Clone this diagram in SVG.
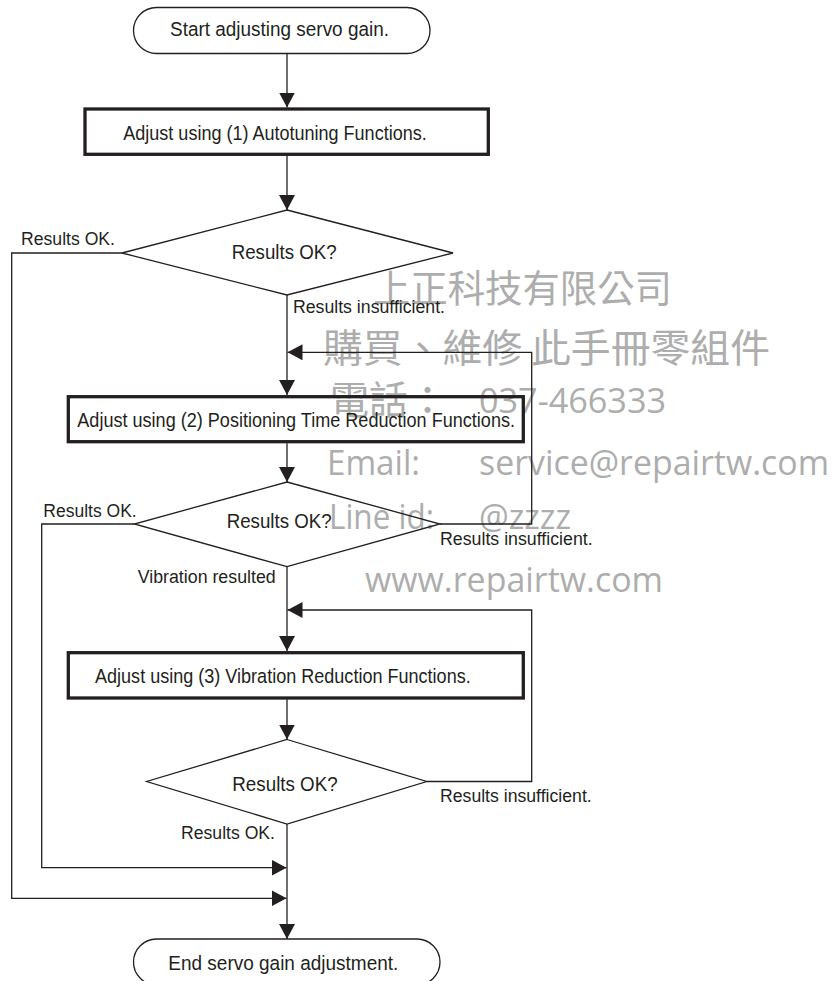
<svg xmlns="http://www.w3.org/2000/svg" width="833" height="981" viewBox="0 0 833 981">
<defs>
<style>
.bg{fill:#ffffff}
.wm{fill:#adadad;font-family:"Open Sans","Noto Sans CJK TC",sans-serif}
.wmc{fill:#adadad;font-family:"Noto Sans CJK TC","Noto Sans CJK SC",sans-serif}
.term{fill:none;stroke:#231f20;stroke-width:1.3}
.proc{fill:none;stroke:#231f20;stroke-width:3.3}
.dec{fill:none;stroke:#231f20;stroke-width:1.3;stroke-linejoin:miter}
.conn{fill:none;stroke:#231f20;stroke-width:1.3}
.t{fill:#231f20;font-family:"Liberation Sans Narrow","Arial Narrow","Liberation Sans",Arial,sans-serif}
.big{font-size:20.5px}
.dq{font-size:19.5px}
.lbl{font-size:18px}
</style>
<marker id="ah" markerUnits="userSpaceOnUse" viewBox="0 0 15 16" markerWidth="15" markerHeight="16" refX="15" refY="8" orient="auto">
<path d="M0,0 L15,8 L0,16 Z" fill="#231f20"/>
</marker>
</defs>
<rect class="bg" x="0" y="0" width="833" height="981"/>

<g id="watermark">
<text class="wmc" x="373" y="302" font-size="37.5" textLength="299" lengthAdjust="spacingAndGlyphs">上正科技有限公司</text>
<text class="wmc" x="323" y="362" font-size="39" textLength="447" lengthAdjust="spacingAndGlyphs">購買、維修 此手冊零組件</text>
<text class="wmc" x="330" y="414" font-size="39">電話：</text>
<text class="wm" x="479" y="413" font-size="34" textLength="187" lengthAdjust="spacingAndGlyphs">037-466333</text>
<text class="wm" x="327" y="475" font-size="34.5" textLength="93" lengthAdjust="spacingAndGlyphs">Email:</text>
<text class="wm" x="479" y="475" font-size="34.5" textLength="350" lengthAdjust="spacingAndGlyphs">service@repairtw.com</text>
<text class="wm" x="329" y="528.5" font-size="34.5" textLength="105" lengthAdjust="spacingAndGlyphs">Line id:</text>
<text class="wm" x="479" y="528.5" font-size="34.5" textLength="92" lengthAdjust="spacingAndGlyphs">@zzzz</text>
<text class="wm" x="365" y="592" font-size="34.5" textLength="298" lengthAdjust="spacingAndGlyphs">www.repairtw.com</text>
</g>

<g id="connectors">
<path class="conn" d="M287,53.5 V107.5" marker-end="url(#ah)"/>
<path class="conn" d="M287,156 V210" marker-end="url(#ah)"/>
<path class="conn" d="M287,295 V395" marker-end="url(#ah)"/>
<path class="conn" d="M440,524 H531.7 V352.3 H287.5" marker-end="url(#ah)"/>
<path class="conn" d="M287,443.3 V482" marker-end="url(#ah)"/>
<path class="conn" d="M287,566.7 V651" marker-end="url(#ah)"/>
<path class="conn" d="M426.7,781.5 H531.7 V610 H287.5" marker-end="url(#ah)"/>
<path class="conn" d="M287,699.3 V739.5" marker-end="url(#ah)"/>
<path class="conn" d="M287,824 V939" marker-end="url(#ah)"/>
<path class="conn" d="M122,253 H11.7 V898.3 H286.5" marker-end="url(#ah)"/>
<path class="conn" d="M134.3,524 H41.7 V867.7 H286.5" marker-end="url(#ah)"/>
</g>

<g id="start">
<rect class="term" x="133.5" y="7.5" width="296.5" height="46" rx="23" ry="23"/>
<text class="t big" x="170" y="36" textLength="219" lengthAdjust="spacingAndGlyphs">Start adjusting servo gain.</text>
</g>

<g id="step1">
<rect class="proc" x="85" y="109" width="403.3" height="45.3"/>
<text class="t big" x="123.3" y="140" textLength="303.4" lengthAdjust="spacingAndGlyphs">Adjust using (1) Autotuning Functions.</text>
</g>

<g id="decision1">
<polygon class="dec" points="287,210 453,253 287,295 122,253"/>
<text class="t dq" x="231.7" y="259.3" textLength="105" lengthAdjust="spacingAndGlyphs">Results OK?</text>
</g>

<g id="step2">
<rect class="proc" x="68.3" y="396.7" width="455" height="45"/>
<text class="t big" x="77.3" y="426.7" textLength="437.7" lengthAdjust="spacingAndGlyphs">Adjust using (2) Positioning Time Reduction Functions.</text>
</g>

<g id="decision2">
<polygon class="dec" points="287,482 440,524 287,566.7 134.3,524"/>
<text class="t dq" x="226.7" y="528.3" textLength="105" lengthAdjust="spacingAndGlyphs">Results OK?</text>
</g>

<g id="step3">
<rect class="proc" x="68.3" y="652.7" width="455" height="45.3"/>
<text class="t big" x="95" y="683.3" textLength="375.7" lengthAdjust="spacingAndGlyphs">Adjust using (3) Vibration Reduction Functions.</text>
</g>

<g id="decision3">
<polygon class="dec" points="287,739.5 426.7,781.5 287,824 146.7,781.5"/>
<text class="t dq" x="232.3" y="790.7" textLength="105.4" lengthAdjust="spacingAndGlyphs">Results OK?</text>
</g>

<g id="end">
<rect class="term" x="133.5" y="939" width="306.5" height="46" rx="23" ry="23"/>
<text class="t big" x="168.3" y="970" textLength="230" lengthAdjust="spacingAndGlyphs">End servo gain adjustment.</text>
</g>

<g id="labels">
<text class="t lbl" x="21" y="245" textLength="94" lengthAdjust="spacingAndGlyphs">Results OK.</text>
<text class="t lbl" x="293" y="313.3" textLength="152" lengthAdjust="spacingAndGlyphs">Results insufficient.</text>
<text class="t lbl" x="43.3" y="517.3" textLength="93.4" lengthAdjust="spacingAndGlyphs">Results OK.</text>
<text class="t lbl" x="440" y="545" textLength="152.7" lengthAdjust="spacingAndGlyphs">Results insufficient.</text>
<text class="t lbl" x="137.7" y="582.7" textLength="138" lengthAdjust="spacingAndGlyphs">Vibration resulted</text>
<text class="t lbl" x="440" y="801.7" textLength="151.7" lengthAdjust="spacingAndGlyphs">Results insufficient.</text>
<text class="t lbl" x="181" y="839.3" textLength="94" lengthAdjust="spacingAndGlyphs">Results OK.</text>
</g>
</svg>
